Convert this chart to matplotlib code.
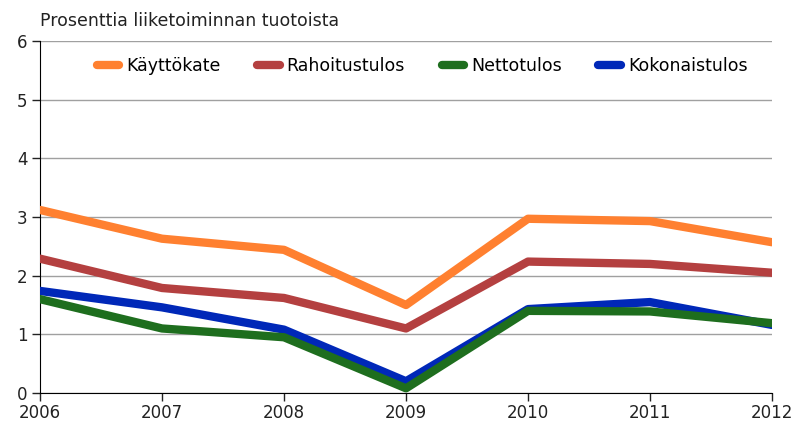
import numpy as np
import matplotlib
matplotlib.use('Agg')
import matplotlib.pyplot as plt

# data
years = [2006, 2007, 2008, 2009, 2010, 2011, 2012]
kayttokate = [3.12, 2.63, 2.44, 1.50, 2.97, 2.93, 2.57]
rahoitustulos = [2.29, 1.79, 1.62, 1.10, 2.24, 2.20, 2.05]
nettotulos = [1.60, 1.10, 0.95, 0.08, 1.40, 1.39, 1.19]
kokonaistulos = [1.74, 1.46, 1.08, 0.20, 1.43, 1.55, 1.16]

names = ['Käyttökate', 'Rahoitustulos', 'Nettotulos', 'Kokonaistulos']
colors = ['#ff8030', '#b44040', '#1e6e1e', '#0028b8']

plt.rcParams['font.family'] = ['DejaVu Sans']

fig = plt.figure(figsize=(7.94, 4.30), dpi=100)
ax = fig.add_axes([40/794, 1-393/430, (772-40)/794, (393-41)/430])

# blue drawn under green, like in the original
series = [kayttokate, rahoitustulos, kokonaistulos, nettotulos]
order = [0, 1, 3, 2]
lines = {}
for s, i in zip(series, order):
    ln, = ax.plot(years, s, color=colors[i], lw=6, solid_capstyle='round',
                  solid_joinstyle='round', label=names[i], zorder=3)
    lines[i] = ln

ax.set_xlim(2006, 2012)
ax.set_ylim(0, 6)
ax.set_xticks(years)
ax.set_yticks(range(0, 7))
ax.yaxis.grid(True, color='#a0a0a0', lw=1.0)
ax.set_axisbelow(True)
for sp in ['top', 'right']:
    ax.spines[sp].set_visible(False)
ax.spines['left'].set_color('black')
ax.spines['bottom'].set_color('black')
ax.tick_params(axis='both', direction='out', length=6, width=1,
               labelsize=12, colors='#222222', pad=3)
ax.tick_params(axis='x', pad=2)

ax.text(0, 1.03, 'Prosenttia liiketoiminnan tuotoista', transform=ax.transAxes,
        fontsize=12.5, ha='left', va='bottom', color='#222222')

leg = ax.legend([lines[i] for i in range(4)], names, loc='upper center',
                bbox_to_anchor=(0.522, 1.0), ncol=4, frameon=False,
                fontsize=12.5, handlelength=1.3, handletextpad=0.4,
                columnspacing=2.1)
for h in leg.legend_handles:
    h.set_linewidth(6)

fig.savefig('out.png', dpi=100)
